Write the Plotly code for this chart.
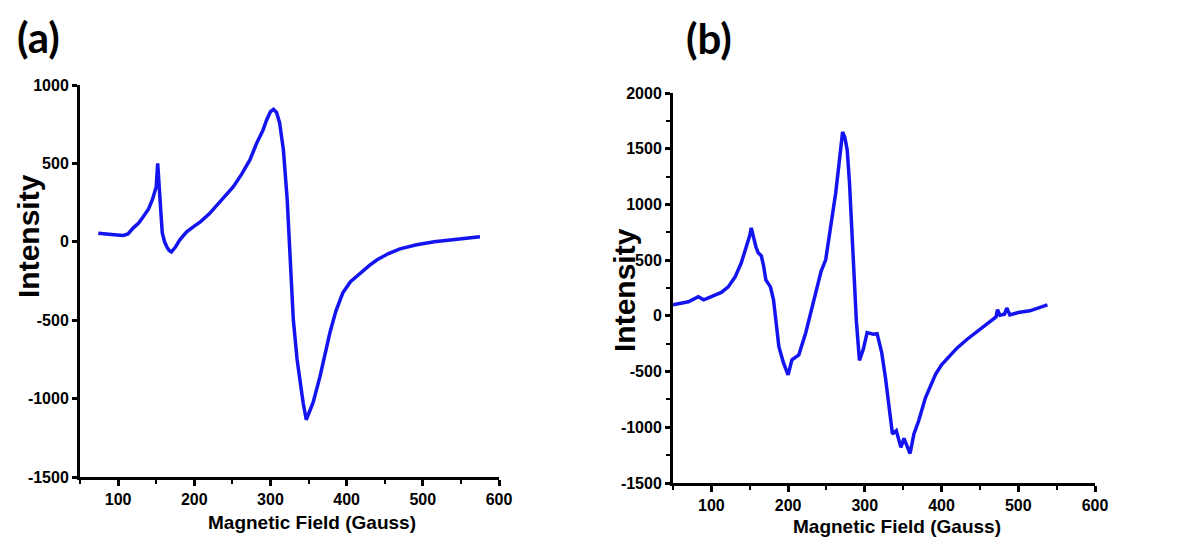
import plotly.graph_objects as go

# Panel (a) data
field_a = [74, 85, 95, 107, 113, 120, 127, 133, 140, 145, 150, 152, 154, 156, 158, 161, 164, 167, 170, 175,
           181, 190, 200, 208, 220, 230, 240, 251, 262, 273, 282, 290, 295, 300, 304, 308, 312, 317, 322, 326,
           330, 335, 339, 343, 347, 351, 356, 365, 372, 378, 386, 395, 405, 418, 430, 440, 455, 470, 492, 515,
           536, 555, 575]
int_a = [55, 48, 45, 40, 50, 89, 120, 160, 210, 268, 350, 500, 380, 200, 57, 0, -32, -55, -64, -35,
         13, 64, 100, 127, 180, 236, 290, 350, 430, 522, 630, 710, 777, 830, 845, 825, 760, 586, 268, -70,
         -497, -752, -898, -1030, -1135, -1080, -1025, -860, -700, -580, -440, -325, -255, -197, -150, -115, -75, -45, -19, 0,
         13, 20, 32]

# Panel (b) data
field_b = [50, 60, 70, 77, 83, 90, 97, 105, 113, 122, 131, 139, 146, 150, 152, 155, 158, 161, 165, 168,
           171, 177, 181, 184, 188, 194, 200, 205, 210, 214, 223, 231, 236, 240, 243, 249, 256, 262, 266, 271,
           274, 277, 280, 283, 286, 289, 293, 298, 303, 311, 316, 322, 327, 333, 336, 341, 347, 351, 355,
           359, 364, 370, 379, 392, 400, 410, 420, 433, 445, 455, 465, 471, 473, 476, 482, 485, 489, 500, 515, 527, 538]
int_b = [99, 115, 126, 150, 171, 144, 165, 189, 210, 260, 350, 476, 620, 720, 790, 700, 620, 566, 540, 450,
         323, 260, 144, -36, -276, -422, -530, -395, -370, -350, -152, 81, 206, 323, 400, 503, 800, 1100, 1340, 1650,
         1600, 1490, 1200, 800, 350, -50, -400, -300, -150, -165, -160, -330, -560, -900, -1060, -1030, -1180, -1100, -1170,
         -1235, -1060, -946, -736, -526, -440, -360, -290, -212, -150, -100, -45, -10, 55, 5, 15, 70, 8, 30, 45, 70, 99]

x_ticks = [100, 200, 300, 400, 500, 600]
y_ticks_a = [-1500, -1000, -500, 0, 500, 1000]
y_ticks_b = [-1500, -1000, -500, 0, 500, 1000, 1500, 2000]

W, H = 1185, 540
LINE = "#1414F0"
TICKFONT = dict(family="Arial", size=16, color="black")

def lab(v):
    return "<b>%d</b>" % v

fig = go.Figure()
fig.add_trace(go.Scatter(x=field_a, y=int_a, mode="lines", line=dict(color=LINE, width=3.5),
                         xaxis="x", yaxis="y", showlegend=False))
fig.add_trace(go.Scatter(x=field_b, y=int_b, mode="lines", line=dict(color=LINE, width=3.5),
                         xaxis="x2", yaxis="y2", showlegend=False))

def xax(domain, anchor):
    return dict(domain=domain, anchor=anchor, range=[50, 600], tickvals=x_ticks,
                ticktext=[lab(v) for v in x_ticks],
                showline=True, linewidth=3, linecolor="black", showgrid=False, zeroline=False,
                ticks="outside", ticklen=6, tickwidth=2.5, tickcolor="black",
                minor=dict(dtick=50, tick0=50, ticks="outside", ticklen=4, tickwidth=2, tickcolor="black"),
                tickfont=TICKFONT, automargin=False, fixedrange=True)

def yax(domain, anchor, rng, vals, minor):
    d = dict(domain=domain, anchor=anchor, range=rng, tickvals=vals,
             ticktext=[lab(v) for v in vals],
             showline=True, linewidth=3, linecolor="black", showgrid=False, zeroline=False,
             ticks="outside", ticklen=5, tickwidth=2.5, tickcolor="black",
             tickfont=TICKFONT, automargin=False, fixedrange=True)
    if minor:
        d["minor"] = dict(dtick=250, tick0=0, ticks="outside", ticklen=4, tickwidth=2, tickcolor="black")
    return d

fig.update_layout(
    template="none",
    font=dict(family="Arial", size=16, color="black"),
    width=W, height=H, autosize=False,
    margin=dict(l=0, r=0, t=0, b=0),
    paper_bgcolor="white", plot_bgcolor="white",
    xaxis=xax([80 / W, 499 / W], "y"),
    yaxis=yax([1 - 477 / H, 1 - 85 / H], "x", [-1500, 1000], y_ticks_a, False),
    xaxis2=xax([673 / W, 1095 / W], "y2"),
    yaxis2=yax([1 - 483 / H, 1 - 93 / H], "x2", [-1500, 2000], y_ticks_b, True),
)

def ann(text, px, py, size, family="Arial", angle=0):
    fig.add_annotation(text="<b>%s</b>" % text, x=px / W, y=1 - py / H, xref="paper", yref="paper",
                       showarrow=False, textangle=angle, xanchor="center", yanchor="middle",
                       font=dict(family=family, size=size, color="black"))

ann("(a)", 38, 37, 42, family="Lato, Open Sans")
ann("(b)", 709, 38, 42, family="Lato, Open Sans")
ann("Intensity", 28, 236, 30, angle=-90)
ann("Intensity", 624, 290, 30, angle=-90)
ann("Magnetic Field (Gauss)", 312, 522, 19)
ann("Magnetic Field (Gauss)", 897, 526, 19)

fig.write_html("out.html")
